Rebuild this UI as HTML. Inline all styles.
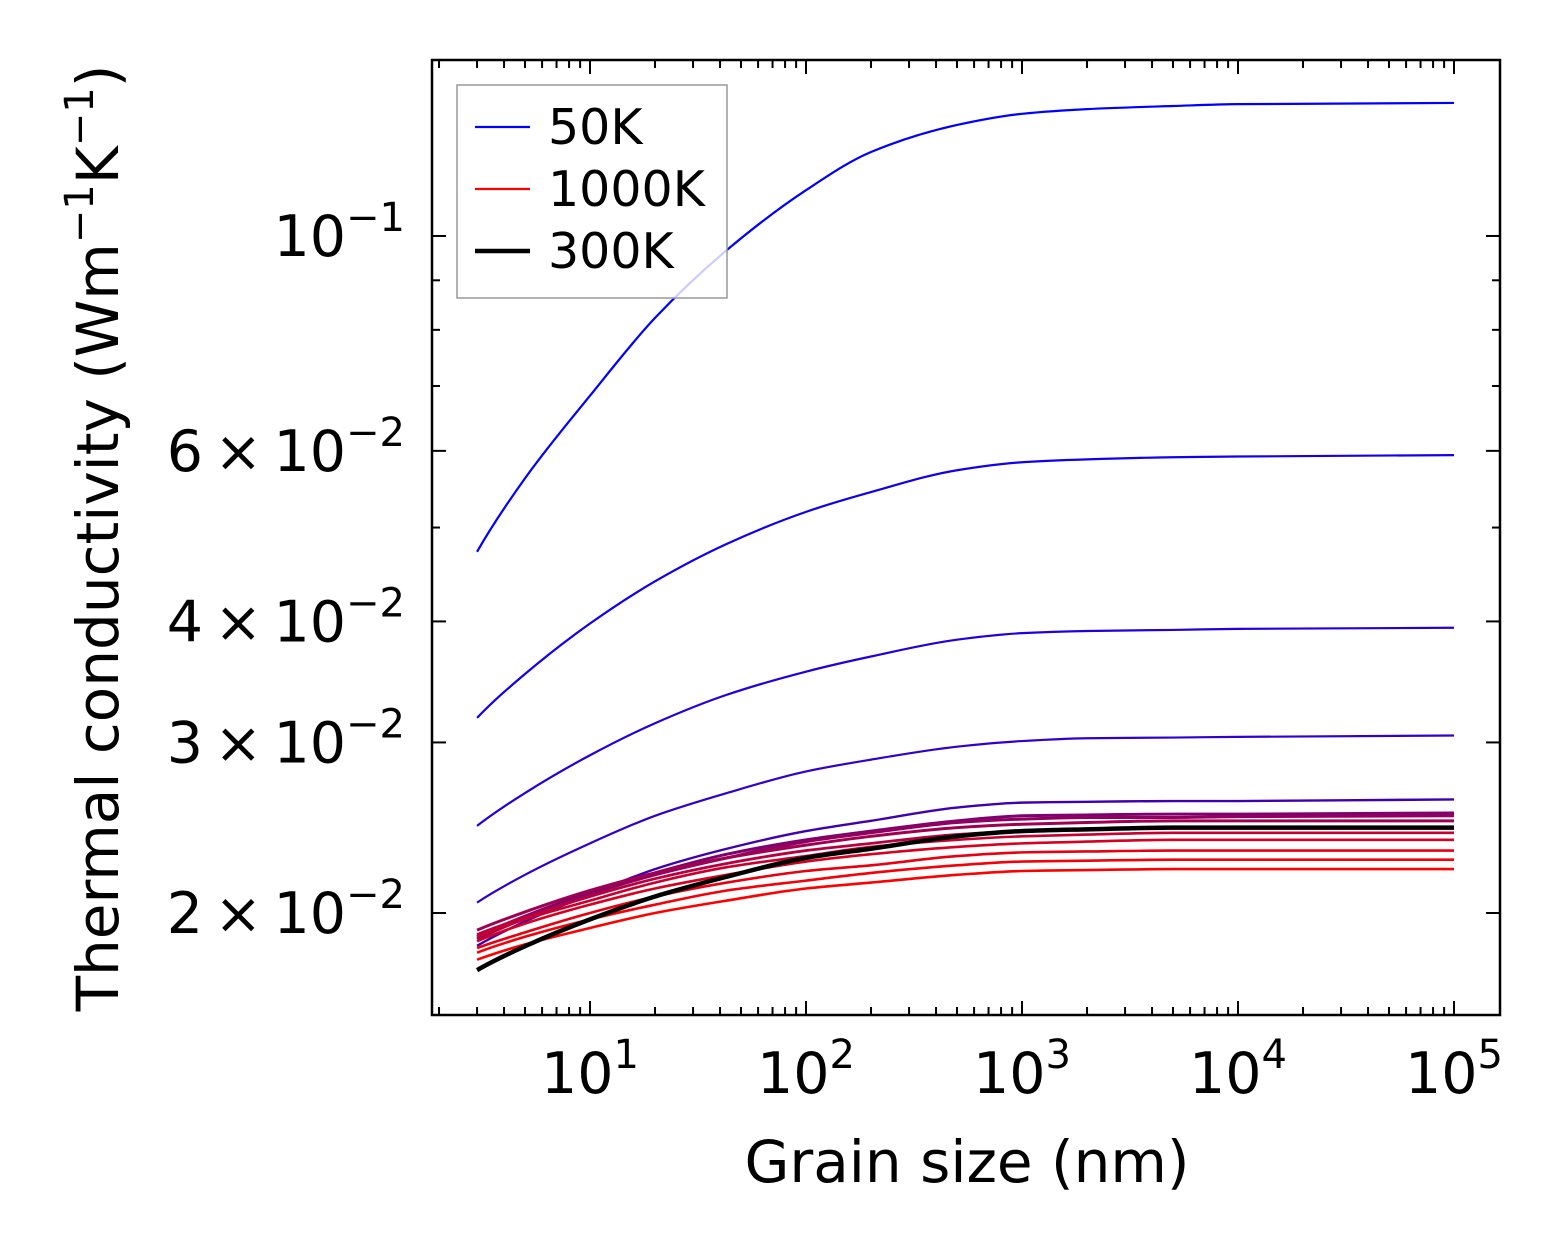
<!DOCTYPE html>
<html><head><meta charset="utf-8"><style>
html,body{margin:0;padding:0;background:#fff;}
svg{display:block;font-family:"DejaVu Sans","Liberation Sans",sans-serif;}
</style></head><body>
<svg id="chart" width="1562" height="1254" viewBox="0 0 1562 1254" xmlns="http://www.w3.org/2000/svg"></svg>
<script>
const grain = [3,5,10,20,43,100,200,500,1000,2000,5000,10000,100000];
const k50K = [0.0472,0.0562,0.0684,0.0823,0.0967,0.1115,0.1221,0.1302,0.1337,0.1352,0.1362,0.1368,0.1372];
const kB2 = [0.0318,0.0353,0.0398,0.0440,0.0481,0.0519,0.0544,0.0573,0.0584,0.0588,0.0591,0.0592,0.0594];
const kB3 = [0.0246,0.0266,0.0291,0.0314,0.0336,0.0355,0.0368,0.0383,0.0389,0.0391,0.0392,0.0393,0.0394];
const kB4 = [0.0205,0.0219,0.0236,0.0252,0.0266,0.0280,0.0288,0.0297,0.0301,0.0303,0.03035,0.0304,0.0305];
const kB5 = [0.0185,0.0196,0.0209,0.0222,0.0233,0.0243,0.0249,0.0257,0.0260,0.02605,0.0261,0.0261,0.0262];
const kC6 = [0.0189,0.01985,0.0210,0.0220,0.0230,0.0238,0.0243,0.0249,0.0252,0.02525,0.0253,0.0253,0.02537];
const kC7 = [0.0188,0.01974,0.0209,0.0219,0.0228,0.0237,0.0242,0.0248,0.0250,0.0251,0.0251,0.02515,0.0252];
const kC8 = [0.0192,0.02005,0.0211,0.0220,0.0228,0.0235,0.0240,0.0245,0.0247,0.0248,0.0249,0.0249,0.0249];
const kC9 = [0.0190,0.0198,0.0208,0.0217,0.0225,0.0232,0.0236,0.0241,0.0243,0.0244,0.0245,0.0245,0.0245];
const kC10 = [0.0189,0.0197,0.0206,0.0215,0.0223,0.0229,0.0234,0.0238,0.0240,0.0241,0.0242,0.0242,0.0242];
const kC11 = [0.0187,0.0195,0.0204,0.0212,0.0219,0.0226,0.0230,0.0234,0.0236,0.0237,0.0238,0.0238,0.0238];
const kC12 = [0.0184,0.0191,0.0200,0.0208,0.0215,0.0221,0.0224,0.0229,0.0231,0.02315,0.0232,0.0232,0.0232];
const kC13 = [0.0182,0.0189,0.0197,0.0204,0.0211,0.0216,0.0220,0.0224,0.0226,0.02265,0.0227,0.0227,0.0227];
const k1000K = [0.0179,0.01856,0.0193,0.0200,0.0206,0.0212,0.0215,0.0219,0.0221,0.02215,0.0222,0.0222,0.0222];
const k300K = [0.01746,0.01848,0.0197,0.0208,0.0218,0.0228,0.0233,0.0240,0.0243,0.0244,0.0245,0.0245,0.0245];
const xTickLabels = ["1","2","3","4","5"];
const yTickValues = [0.02,0.03,0.04,0.06,0.1];
const yTickMant = ["2","3","4","6",""];

const svg = document.getElementById('chart');
const NS = "http://www.w3.org/2000/svg";
const L=432,R=1500,T=60,B=1015;
const xs = v => 590 + (Math.log10(v)-1)*216;
const ys = v => 913 - (Math.log10(v)-Math.log10(0.02))*968.6;
function mk(tag, attrs, parent){const e=document.createElementNS(NS,tag);for(const k in attrs)e.setAttribute(k,attrs[k]);(parent||svg).appendChild(e);return e;}

const seriesList = [
 [k50K,'#0000ff',2.2,'series-50k'],[kB2,'#1000ef',2.2,'series-100k'],[kB3,'#2000df',2.2,'series-150k'],
 [kB4,'#3000cf',2.2,'series-200k'],[kB5,'#4000b0',2.4,'series-250k'],
 [kC6,'#800070',3,'series-350k'],[kC7,'#900060',3,'series-400k'],[kC8,'#a00050',3,'series-500k'],
 [kC9,'#b80040',2.8,'series-600k'],[kC10,'#c80030',2.6,'series-700k'],[kC11,'#d80020',2.6,'series-800k'],
 [kC12,'#e80010',2.6,'series-850k'],[kC13,'#f40008',2.6,'series-900k'],[k1000K,'#ff0000',2.6,'series-1000k'],
 [k300K,'#000000',4.5,'series-300k']
];
function pathFor(vals){
  const pts=grain.map((g,i)=>[xs(g),ys(vals[i])]);
  const n=pts.length, m=[];
  const d0=[];for(let i=0;i<n-1;i++)d0.push((pts[i+1][1]-pts[i][1])/(pts[i+1][0]-pts[i][0]));
  for(let i=0;i<n;i++){
    if(i===0)m.push(d0[0]*1.15);else if(i===n-1)m.push(d0[n-2]*0.5);
    else{ if(d0[i-1]*d0[i]<=0)m.push(0); else { const h0=pts[i][0]-pts[i-1][0],h1=pts[i+1][0]-pts[i][0]; const w1=2*h1+h0,w2=h1+2*h0; m.push((w1+w2)/(w1/d0[i-1]+w2/d0[i])); } }
  }
  let d='M'+pts[0][0].toFixed(2)+','+pts[0][1].toFixed(2);
  for(let i=0;i<n-1;i++){
    const h=pts[i+1][0]-pts[i][0];
    d+=' C'+(pts[i][0]+h/3).toFixed(2)+','+(pts[i][1]+m[i]*h/3).toFixed(2)+' '+(pts[i+1][0]-h/3).toFixed(2)+','+(pts[i+1][1]-m[i+1]*h/3).toFixed(2)+' '+pts[i+1][0].toFixed(2)+','+pts[i+1][1].toFixed(2);
  }
  return d;
}
for(const s of seriesList){
  const p=mk('path',{d:pathFor(s[0]),fill:'none',stroke:s[1],'stroke-width':s[2],'stroke-linejoin':'round'});
  
  
}
const fr=mk('rect',{x:L,y:T,width:R-L,height:B-T,fill:'none',stroke:'#000','stroke-width':2.5});


for(let d=0;d<=5;d++){for(let m=1;m<=9;m++){
  const v=m*Math.pow(10,d);const x=xs(v);if(x<L||x>R)continue;
  const len=m===1?14:8;
  mk('line',{x1:x,y1:B,x2:x,y2:B-len,stroke:'#000','stroke-width':2});
  mk('line',{x1:x,y1:T,x2:x,y2:T+len,stroke:'#000','stroke-width':2});
}}
xTickLabels.forEach(e=>{
  const t=mk('text',{x:xs(Math.pow(10,+e)),y:1093,'font-size':57,'text-anchor':'middle',fill:'#000'});
  
  
  t.innerHTML='10<tspan dy="-25" font-size="40">'+e+'</tspan>';
});
[0.02,0.03,0.04,0.05,0.06,0.07,0.08,0.09,0.1].forEach(v=>{
  const y=ys(v);const len=yTickValues.includes(v)?14:8;
  mk('line',{x1:L,y1:y,x2:L+len,y2:y,stroke:'#000','stroke-width':2});
  mk('line',{x1:R,y1:y,x2:R-len,y2:y,stroke:'#000','stroke-width':2});
});
yTickValues.forEach((v,i)=>{
  const t=mk('text',{x:405,y:ys(v)+20,'font-size':57,'text-anchor':'end',fill:'#000'});
  
  
  const exp=v===0.1?'\u22121':'\u22122';
  t.innerHTML=(yTickMant[i]?yTickMant[i]+'\u2009\u00d7\u200910':'10')+'<tspan dy="-25" font-size="40">'+exp+'</tspan>';
});
const xt=mk('text',{x:967,y:1182,'font-size':58,'text-anchor':'middle',fill:'#000'});


xt.textContent='Grain size (nm)';
const yt=mk('text',{x:0,y:0,'font-size':58,'text-anchor':'middle',fill:'#000',transform:'translate(118,538) rotate(-90)'});


yt.innerHTML='Thermal conductivity (Wm<tspan dy="-25" font-size="40">\u22121</tspan><tspan dy="25">K</tspan><tspan dy="-25" font-size="40">\u22121</tspan><tspan dy="25">)</tspan>';
const lg=mk('g',{});


mk('rect',{x:457,y:85,width:270,height:213,fill:'rgba(255,255,255,0.8)',stroke:'#999','stroke-width':1.5},lg);
[['50K','#0000ff',2.2,127],['1000K','#ff0000',2.2,189],['300K','#000',4.5,251]].forEach(e=>{
  const g=mk('g',{},lg);
  
  
  mk('line',{x1:475,y1:e[3],x2:530,y2:e[3],stroke:e[1],'stroke-width':e[2]},g);
  const t=mk('text',{x:548,y:e[3]+17,'font-size':49,fill:'#000'},g);
  t.textContent=e[0];
});
</script>
</body></html>
